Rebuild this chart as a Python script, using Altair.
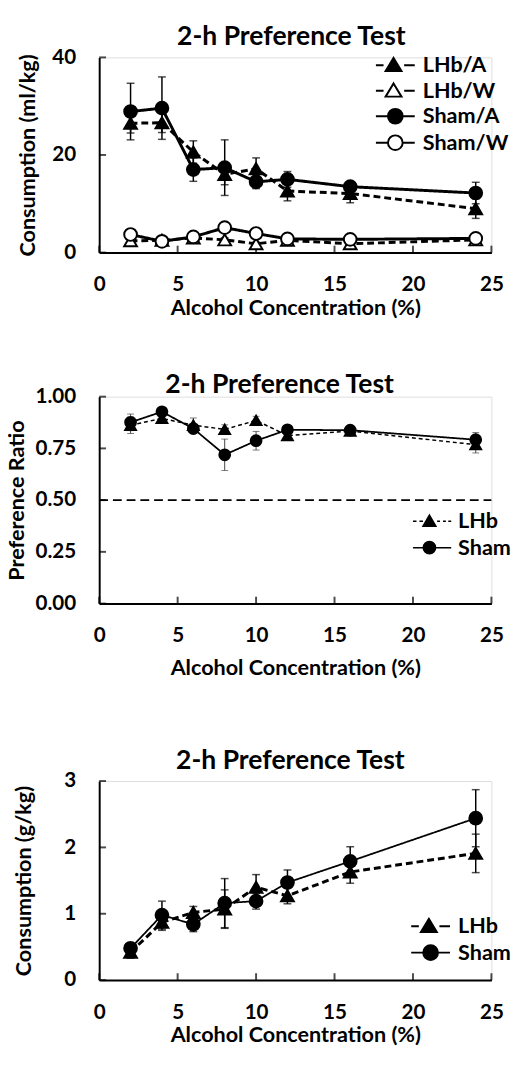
import altair as alt
import pandas as pd

# ---------------- data ----------------
conc = [2, 4, 6, 8, 10, 12, 16, 24]
x_ticks = [0, 5, 10, 15, 20, 25]

# Panel 1: fluid consumption (ml/kg)
p1_groups = ["LHb/A", "LHb/W", "Sham/A", "Sham/W"]
lhb_a = [26.5, 26.6, 20.6, 16.0, 17.2, 12.6, 12.1, 9.0]
lhb_a_sem = [2.0, 2.0, 2.3, 2.1, 2.2, 2.0, 1.9, 2.0]
lhb_w = [2.4, 2.5, 3.0, 2.6, 1.8, 2.5, 1.8, 2.6]
lhb_w_sem = [0.3, 0.3, 0.4, 0.4, 0.3, 0.3, 0.3, 0.3]
sham_a = [28.9, 29.6, 17.0, 17.4, 14.5, 15.0, 13.5, 12.2]
sham_a_sem = [5.8, 6.4, 2.4, 5.7, 1.4, 1.6, 1.0, 2.2]
sham_w = [3.7, 2.3, 3.2, 5.1, 3.9, 2.8, 2.7, 2.9]
sham_w_sem = [0.4, 0.3, 0.4, 0.5, 0.4, 0.3, 0.3, 0.3]
p1_yticks = [0, 20, 40]

# Panel 2: preference ratio
p2_groups = ["LHb", "Sham"]
lhb_pref = [0.862, 0.895, 0.862, 0.842, 0.885, 0.812, 0.834, 0.768]
lhb_pref_sem = [0.040, 0.015, 0.035, 0.022, 0.020, 0.012, 0.015, 0.040]
sham_pref = [0.876, 0.927, 0.846, 0.719, 0.787, 0.840, 0.838, 0.792]
sham_pref_sem = [0.040, 0.015, 0.020, 0.076, 0.045, 0.010, 0.012, 0.035]
p2_yticks = [0.0, 0.25, 0.5, 0.75, 1.0]
chance_level = [0.5]

# Panel 3: alcohol consumption (g/kg)
p3_groups = ["LHb", "Sham"]
lhb_gkg = [0.42, 0.87, 1.02, 1.07, 1.40, 1.27, 1.63, 1.91]
lhb_gkg_sem = [0.09, 0.12, 0.09, 0.29, 0.19, 0.12, 0.17, 0.29]
sham_gkg = [0.48, 0.98, 0.84, 1.16, 1.19, 1.47, 1.79, 2.44]
sham_gkg_sem = [0.05, 0.21, 0.11, 0.37, 0.12, 0.19, 0.22, 0.43]
p3_yticks = [0, 1, 2, 3]

FONT = "Lato"
TITLE = "2-h Preference Test"
XTITLE = "Alcohol Concentration (%)"

# legend glyphs (line + marker) as custom symbol paths
TRI_BOLD = "M-5.8,0H-4.5M-2.8,-1.25L-1.45,1L-4.15,1ZM-1,0H0.8"
CIRC_BOLD = "M-5.8,0H-3.75M-1.25,0H0.8M-3.75,0A1.25,1.25,0,1,0,-1.25,0A1.25,1.25,0,1,0,-3.75,0Z"
TRI_THIN = "M-5.5,0H-4.9M-4.4,0H-3.8M-2.7,-1.05L-1.6,0.85L-3.8,0.85ZM-1.4,0H-0.9M-0.4,0H0.1M0.5,0H1"
CIRC_THIN = "M-5.5,0H-3.75M-1.65,0H1M-3.75,0A1.05,1.05,0,1,0,-1.65,0A1.05,1.05,0,1,0,-3.75,0Z"

INDEP = dict(shape="independent", fill="independent", stroke="independent",
             strokeDash="independent", strokeWidth="independent")


def long_df(groups, means, sems):
    rows = []
    for g, m, s in zip(groups, means, sems):
        for c, v, e in zip(conc, m, s):
            rows.append({"group": g, "conc": c, "value": v, "lo": v - e, "hi": v + e})
    return pd.DataFrame(rows)


def make_panel(df, groups, shapes, fills, dashes, lwidths, paths, ydom, yticks, yfmt,
               ytitle, width, height, title_offset, title_dx, y_extent, ytitle_pad,
               xtitle_pad, legend_x, legend_y, legend_row_pad, err_color, err_width,
               cap_size, pt_size, sym_stroke, ref=None):
    xs = alt.Scale(domain=[0, 25], nice=False)
    ys = alt.Scale(domain=ydom, nice=False)
    x_axis = alt.Axis(values=x_ticks, title=XTITLE, grid=False, ticks=False, tickSize=0,
                      domainColor="black", domainWidth=2, labelFont=FONT, labelFontSize=21,
                      labelFontWeight="bold", labelColor="black", labelPadding=22,
                      labelFlush=False, titleFont=FONT, titleFontSize=22,
                      titleFontWeight="bold", titleColor="black", titlePadding=xtitle_pad)
    y_axis = alt.Axis(values=yticks, format=yfmt, title=ytitle, grid=False, ticks=False,
                      tickSize=0, domainColor="black", domainWidth=2, labelFont=FONT,
                      labelFontSize=21, labelFontWeight="bold", labelColor="black",
                      labelPadding=24, minExtent=y_extent, maxExtent=y_extent,
                      titleFont=FONT, titleFontSize=22, titleFontWeight="bold",
                      titleColor="black", titlePadding=ytitle_pad)
    X = alt.X("conc:Q", scale=xs, axis=x_axis)
    base = alt.Chart(df)

    err = base.mark_rule(color=err_color, strokeWidth=err_width).encode(
        x=X, y=alt.Y("lo:Q", scale=ys, axis=y_axis), y2="hi:Q")
    cap_lo = base.mark_tick(orient="horizontal", size=cap_size, thickness=err_width,
                            color=err_color).encode(x="conc:Q", y="lo:Q")
    cap_hi = base.mark_tick(orient="horizontal", size=cap_size, thickness=err_width,
                            color=err_color).encode(x="conc:Q", y="hi:Q")
    lines = base.mark_line(color="black").encode(
        x="conc:Q", y="value:Q",
        strokeDash=alt.StrokeDash("group:N", scale=alt.Scale(domain=groups, range=dashes), legend=None),
        strokeWidth=alt.StrokeWidth("group:N", scale=alt.Scale(domain=groups, range=lwidths), legend=None),
    )
    pts = base.mark_point(stroke="black", strokeWidth=2, opacity=1, fillOpacity=1,
                          size=pt_size).encode(
        x="conc:Q", y="value:Q",
        shape=alt.Shape("group:N", scale=alt.Scale(domain=groups, range=shapes), legend=None),
        fill=alt.Fill("group:N", scale=alt.Scale(domain=groups, range=fills), legend=None),
    )
    leg = alt.Legend(orient="none", legendX=legend_x, legendY=legend_y, title=None,
                     labelFont=FONT, labelFontSize=22, labelFontWeight="bold",
                     labelColor="black", symbolStrokeColor="black",
                     symbolStrokeWidth=sym_stroke, symbolSize=144, symbolOpacity=1,
                     rowPadding=legend_row_pad, labelOffset=2, padding=0)
    legend_layer = base.mark_point(opacity=0, filled=False, strokeWidth=sym_stroke).encode(
        x="conc:Q", y="value:Q",
        shape=alt.Shape("group:N", scale=alt.Scale(domain=groups, range=paths), legend=leg),
        fill=alt.Fill("group:N", scale=alt.Scale(domain=groups, range=fills), legend=leg),
        stroke=alt.Stroke("group:N", scale=alt.Scale(domain=groups, range=["black" for _ in groups]),
                          legend=leg),
    )

    x_tk = alt.Chart(pd.DataFrame({"t": x_ticks})).mark_tick(
        orient="vertical", size=7, thickness=2, color="black", yOffset=-3.5).encode(
        x="t:Q", y=alt.datum(ydom[0]))
    y_tk = alt.Chart(pd.DataFrame({"t": yticks})).mark_tick(
        orient="horizontal", size=7, thickness=2, color="black", xOffset=3.5).encode(
        y="t:Q", x=alt.datum(0))

    layers = [err, cap_lo, cap_hi, x_tk, y_tk]
    if ref is not None:
        layers.append(alt.Chart(pd.DataFrame({"r": ref})).mark_rule(
            color="black", strokeWidth=2, strokeDash=[9, 5]).encode(
            y="r:Q", x=alt.datum(0), x2=alt.datum(25)))
    layers += [lines, pts, legend_layer]

    return alt.layer(*layers).resolve_scale(
        shape="independent", fill="independent", stroke="independent").properties(
        width=width, height=height,
        title=alt.TitleParams(TITLE, font=FONT, fontSize=27, fontWeight="bold", color="black",
                              anchor="middle", frame="group", offset=title_offset,
                              dx=title_dx),
    )


df1 = long_df(p1_groups, [lhb_a, lhb_w, sham_a, sham_w],
              [lhb_a_sem, lhb_w_sem, sham_a_sem, sham_w_sem])
df2 = long_df(p2_groups, [lhb_pref, sham_pref], [lhb_pref_sem, sham_pref_sem])
df3 = long_df(p3_groups, [lhb_gkg, sham_gkg], [lhb_gkg_sem, sham_gkg_sem])

p1 = make_panel(df1, p1_groups,
                ["triangle-up", "triangle-up", "circle", "circle"],
                ["black", "white", "black", "white"],
                [[7, 4], [7, 4], [1, 0], [1, 0]], [3, 3, 1.6, 1.6],
                [TRI_BOLD, TRI_BOLD, CIRC_BOLD, CIRC_BOLD],
                [0, 40], p1_yticks, "d", "Consumption (ml/kg)", 400, 199,
                -4, -4, 45, 16, 3, 306, -3, 3, "black", 1.5, 8, 169, 2)

p2 = make_panel(df2, p2_groups,
                ["triangle-up", "circle"], ["black", "black"],
                [[4, 3], [1, 0]], [1.5, 1.8],
                [TRI_THIN, CIRC_THIN],
                [0, 1], p2_yticks, ".2f", "Preference Ratio", 400, 211,
                -13, -16, 45, 27, 12, 342, 116, 5, "#444444", 1, 7, 121, 1.5,
                ref=chance_level)

p3 = make_panel(df3, p3_groups,
                ["triangle-up", "circle"], ["black", "black"],
                [[7, 4], [1, 0]], [3, 1.8],
                [TRI_BOLD, CIRC_BOLD],
                [0, 3], p3_yticks, "d", "Consumption (g/kg)", 400, 203,
                -5, -5, 45, 20, 3, 342, 137, 4, "black", 1.5, 8, 169, 2)

inner = alt.vconcat(p1, p2, spacing=52).resolve_scale(**INDEP)
chart = alt.vconcat(inner, p3, spacing=69).resolve_scale(**INDEP).properties(
    padding={"left": -3, "top": 4, "right": 0, "bottom": -2}
).configure_view(stroke=None).configure(background="white")

chart.save("out.html", embed_options={"renderer": "svg", "actions": False})
